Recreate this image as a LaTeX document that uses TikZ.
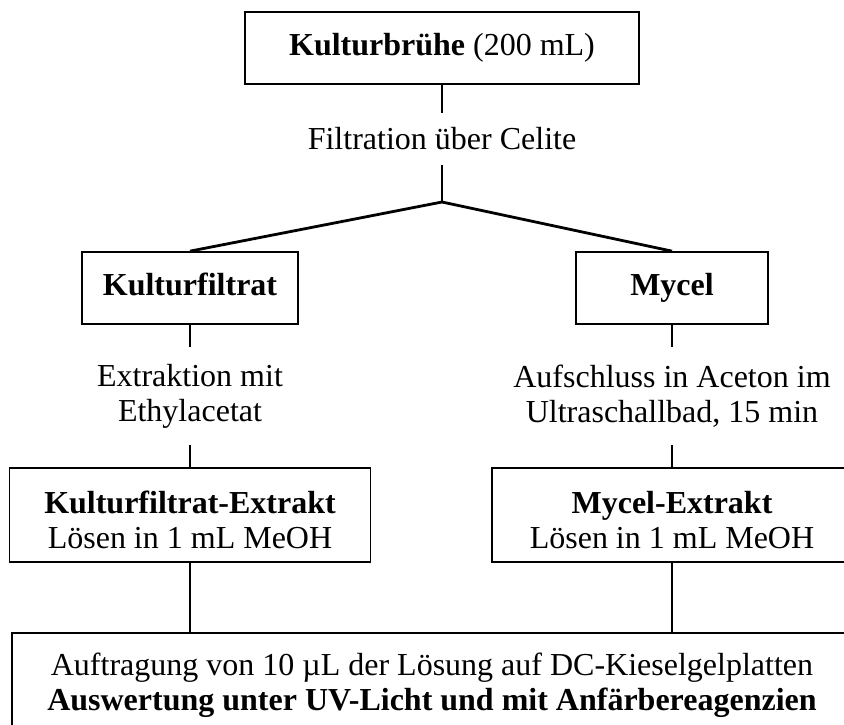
\documentclass[tikz,border=0pt]{standalone}
\usepackage{fontspec}
\setmainfont{Liberation Serif}
\begin{document}
\begin{tikzpicture}[x=1pt,y=-1pt,
  every node/.style={font=\fontsize{32}{35}\selectfont, inner sep=0pt, align=center},
  box/.style={draw, line width=1.7pt},
  link/.style={line width=2.8pt}]
\useasboundingbox (0,0) rectangle (844,724);
\clip (0,0) rectangle (844,724);

% boxes
\node[box, minimum width=394pt, minimum height=72pt] (broth) at (442,48) {\strut\textbf{Kulturbrühe} (200 mL)};
\node[box, minimum width=216pt, minimum height=72pt] (filtrate) at (190,288) {\strut\textbf{Kulturfiltrat}};
\node[box, minimum width=192pt, minimum height=72pt] (mycel) at (672,288) {\strut\textbf{Mycel}};
\node[box, minimum width=361pt, minimum height=94pt] (fext) at (190,515) {\rule{0pt}{33pt}\textbf{Kulturfiltrat-Extrakt}\\Lösen in 1 mL MeOH};
\node[box, minimum width=360pt, minimum height=94pt] (mext) at (672,515) {\rule{0pt}{33pt}\textbf{Mycel-Extrakt}\\Lösen in 1 mL MeOH};
\node[box, minimum width=840pt, minimum height=96pt] (tlc) at (432,681) {\rule{0pt}{32pt}Auftragung von 10 µL der Lösung auf DC-Kieselgelplatten\\\textbf{Auswertung unter UV-Licht und mit Anfärbereagenzien}};

% step labels
\node[minimum height=52pt] (filtration) at (442,139) {Filtration über Celite};
\node[minimum height=98pt] (extraction) at (190,396) {Extraktion mit\\Ethylacetat};
\node[minimum height=98pt] (sonication) at (672,396) {Aufschluss in Aceton im\\Ultraschallbad, 15 min};
\coordinate (split) at (442,202);

% connectors
\draw[link] (broth.south) -- (filtration.north);
\draw[link] (filtration.south) -- (split);
\draw[link] (split) -- (filtrate.north);
\draw[link] (split) -- (mycel.north);
\draw[link] (filtrate.south) -- (extraction.north);
\draw[link] (extraction.south) -- (fext.north);
\draw[link] (mycel.south) -- (sonication.north);
\draw[link] (sonication.south) -- (mext.north);
\draw[link] (fext.south) -- (fext.south |- tlc.north);
\draw[link] (mext.south) -- (mext.south |- tlc.north);
\end{tikzpicture}
\end{document}
